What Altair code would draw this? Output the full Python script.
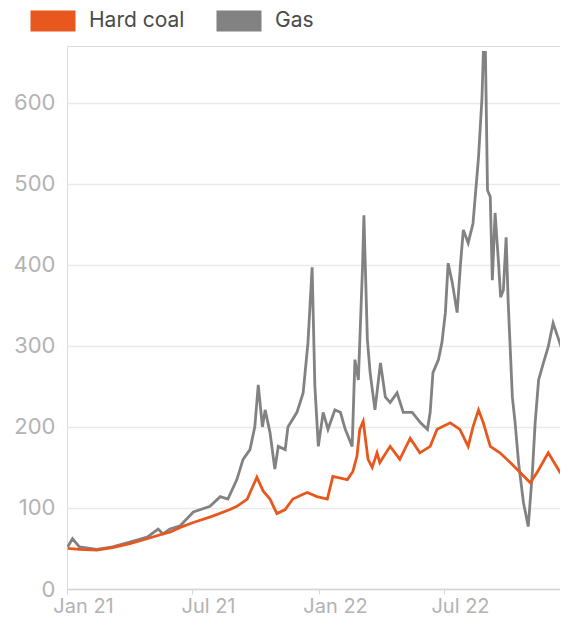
import altair as alt
import pandas as pd

series_names = ["Hard coal", "Gas"]
series_colors = ["#E8581E", "#828282"]

gas_dates = [
    "2021-01-02", "2021-01-09", "2021-01-19", "2021-02-13", "2021-03-08", "2021-04-02",
    "2021-04-27", "2021-05-13", "2021-05-20", "2021-05-30", "2021-06-14", "2021-07-03",
    "2021-07-27", "2021-08-11", "2021-08-22", "2021-09-04", "2021-09-13", "2021-09-23",
    "2021-09-30", "2021-10-05", "2021-10-11", "2021-10-15", "2021-10-22", "2021-10-29",
    "2021-11-03", "2021-11-13", "2021-11-17", "2021-11-30", "2021-12-09", "2021-12-16",
    "2021-12-22", "2021-12-26", "2021-12-31", "2022-01-07", "2022-01-14", "2022-01-24",
    "2022-02-01", "2022-02-08", "2022-02-18", "2022-02-22", "2022-02-27", "2022-03-05",
    "2022-03-07", "2022-03-12", "2022-03-16", "2022-03-23", "2022-03-31", "2022-04-07",
    "2022-04-14", "2022-04-24", "2022-05-03", "2022-05-16", "2022-05-28", "2022-06-07",
    "2022-06-11", "2022-06-15", "2022-06-23", "2022-06-28", "2022-07-03", "2022-07-07",
    "2022-07-13", "2022-07-20", "2022-07-25", "2022-07-29", "2022-08-05", "2022-08-12",
    "2022-08-20", "2022-08-25", "2022-08-27", "2022-08-30", "2022-09-02", "2022-09-06",
    "2022-09-09", "2022-09-13", "2022-09-18", "2022-09-21", "2022-09-25", "2022-09-29",
    "2022-10-02", "2022-10-08", "2022-10-12", "2022-10-17", "2022-10-24", "2022-10-31",
    "2022-11-06", "2022-11-10", "2022-11-15", "2022-11-22", "2022-11-29", "2022-12-06",
    "2022-12-14", "2022-12-19", "2022-12-28",
]
gas_values = [
    52, 62, 52, 49, 52, 58,
    64, 74, 68, 74, 78, 95,
    102, 114, 111, 135, 160, 172,
    200, 252, 200, 221, 193, 148,
    176, 172, 200, 218, 242, 304,
    397, 250, 176, 218, 197, 221,
    218, 197, 176, 283, 258, 397,
    461, 308, 267, 221, 279, 237,
    230, 242, 218, 218, 205, 197,
    218, 267, 283, 304, 341, 402,
    378, 341, 402, 443, 427, 451,
    533, 606, 662, 662, 492, 484,
    381, 464, 402, 360, 369, 434,
    353, 237, 205, 156, 107, 77,
    144, 205, 258, 279, 299, 328,
    308, 295, 193,
]

coal_dates = [
    "2021-01-02", "2021-01-19", "2021-02-13", "2021-03-08", "2021-04-02", "2021-04-27",
    "2021-05-20", "2021-05-30", "2021-06-14", "2021-07-03", "2021-07-31", "2021-08-25",
    "2021-09-04", "2021-09-19", "2021-10-03", "2021-10-12", "2021-10-22", "2021-11-01",
    "2021-11-13", "2021-11-24", "2021-12-09", "2021-12-15", "2021-12-29", "2022-01-13",
    "2022-01-21", "2022-02-11", "2022-02-19", "2022-02-25", "2022-03-01", "2022-03-06",
    "2022-03-13", "2022-03-19", "2022-03-26", "2022-03-30", "2022-04-14", "2022-04-28",
    "2022-05-13", "2022-05-27", "2022-06-11", "2022-06-21", "2022-07-10", "2022-07-24",
    "2022-08-05", "2022-08-12", "2022-08-20", "2022-08-27", "2022-09-06", "2022-09-20",
    "2022-10-05", "2022-10-19", "2022-11-03", "2022-11-13", "2022-11-29", "2022-12-16",
    "2022-12-28",
]
coal_values = [
    50, 49, 48, 51, 56, 62,
    68, 70, 76, 82, 90, 98,
    102, 111, 138, 121, 111, 93,
    98, 111, 117, 119, 114, 111,
    139, 135, 145, 164, 197, 207,
    160, 150, 168, 156, 176, 160,
    186, 168, 176, 197, 205, 197,
    176, 200, 221, 205, 176, 168,
    156, 144, 131, 144, 168, 144,
    135,
]

y_ticks = [0, 100, 200, 300, 400, 500, 600]

gas_df = pd.DataFrame({"date": gas_dates, "value": gas_values, "series": "Gas"})
coal_df = pd.DataFrame({"date": coal_dates, "value": coal_values, "series": "Hard coal"})
df = pd.concat([gas_df, coal_df], ignore_index=True)

font = "Inter"

x_tick_values = [
    alt.DateTime(year=2021, month=1, date=1, utc=True),
    alt.DateTime(year=2021, month=7, date=1, utc=True),
    alt.DateTime(year=2022, month=1, date=1, utc=True),
    alt.DateTime(year=2022, month=7, date=1, utc=True),
]

chart = (
    alt.Chart(df)
    .mark_line(strokeWidth=2.8, clip=True)
    .encode(
        x=alt.X(
            "date:T",
            title=None,
            scale=alt.Scale(
                type="utc",
                domain=[
                    alt.DateTime(year=2021, month=1, date=1, utc=True),
                    alt.DateTime(year=2022, month=12, date=16, utc=True),
                ],
            ),
            axis=alt.Axis(
                values=x_tick_values,
                format="%b %y",
                grid=False,
                domain=True,
                domainColor="#d6d6d6",
                domainWidth=1.5,
                ticks=True,
                tickColor="#d6d6d6",
                tickSize=5,
                labelFont=font,
                labelFontSize=20,
                labelColor="#b3b3b3",
                labelPadding=2,
                labelOffset=16,
                labelFlush=False,
            ),
        ),
        y=alt.Y(
            "value:Q",
            title=None,
            scale=alt.Scale(domain=[0, 670], nice=False, zero=True),
            axis=alt.Axis(
                values=y_ticks,
                domain=False,
                ticks=False,
                grid=True,
                gridColor="#e9e9e9",
                gridWidth=1.5,
                labelFont=font,
                labelFontSize=22,
                labelColor="#b3b3b3",
                labelPadding=12,
            ),
        ),
        color=alt.Color(
            "series:N",
            scale=alt.Scale(domain=series_names, range=series_colors),
            legend=alt.Legend(
                title=None,
                orient="none",
                legendX=-47,
                legendY=-58,
                direction="horizontal",
                symbolType="stroke",
                symbolSize=2025,
                symbolStrokeWidth=21,
                symbolOpacity=1,
                labelFont=font,
                labelFontSize=21,
                labelColor="#4a4a4a",
                labelOffset=3,
                columnPadding=-11,
                padding=0,
            ),
        ),
    )
    .properties(
        width=493,
        height=543,
        autosize=alt.AutoSizeParams(type="none"),
        padding={"left": 59, "top": 38, "right": 0, "bottom": 28},
    )
    .configure_view(stroke="transparent", strokeWidth=0)
    .configure(background="#ffffff")
)

chart.save("out.html", embed_options={"renderer": "svg", "actions": False})
